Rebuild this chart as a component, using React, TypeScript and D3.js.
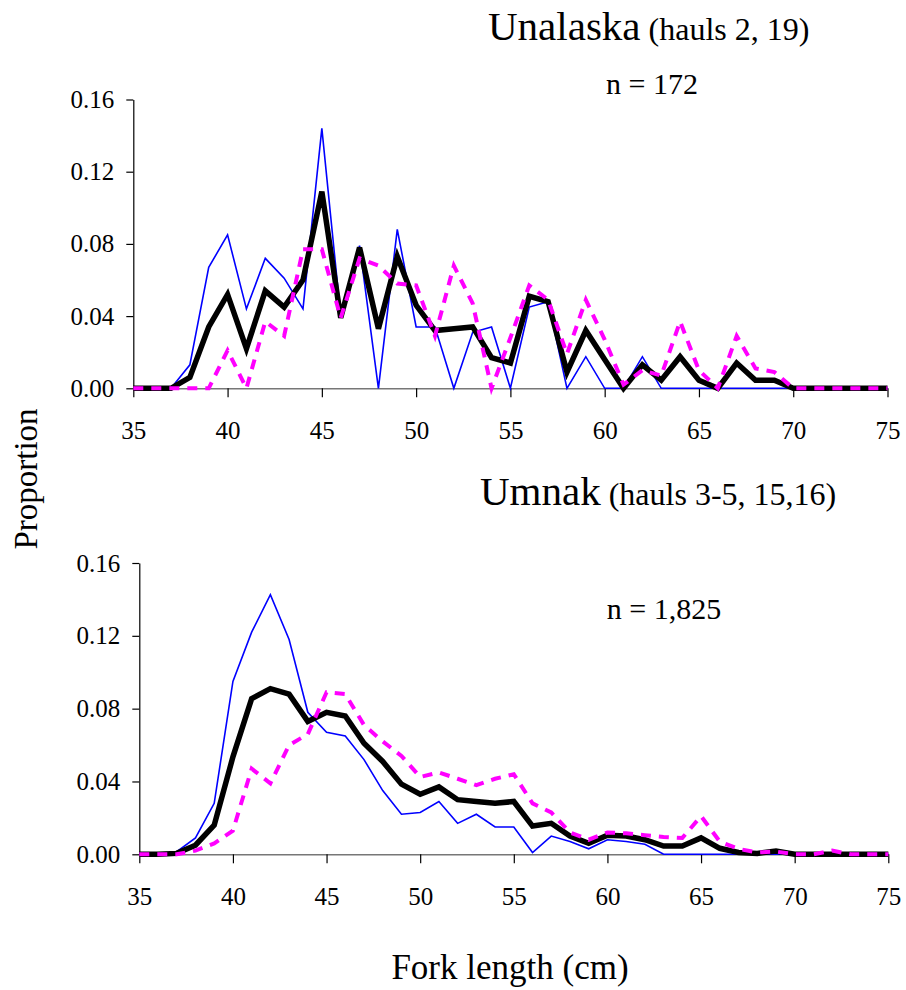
import React, { useEffect, useRef } from "react";
import * as d3 from "d3";

const forkLengths = [35, 36, 37, 38, 39, 40, 41, 42, 43, 44, 45, 46, 47, 48, 49, 50, 51, 52, 53, 54, 55, 56, 57, 58, 59, 60, 61, 62, 63, 64, 65, 66, 67, 68, 69, 70, 71, 72, 73, 74, 75];

// Unalaska (hauls 2, 19)
const unalaskaBlue = [0, 0, 0, 0.013, 0.067, 0.085, 0.044, 0.072, 0.061, 0.044, 0.144, 0.040, 0.079, 0, 0.088, 0.034, 0.034, 0, 0.031, 0.034, 0, 0.045, 0.048, 0, 0.0175, 0, 0, 0.0175, 0, 0, 0, 0, 0, 0, 0, 0, 0, 0, 0, 0, 0];
const unalaskaTotal = [0, 0, 0, 0.006, 0.034, 0.052, 0.022, 0.054, 0.045, 0.060, 0.109, 0.039, 0.078, 0.033, 0.073, 0.046, 0.032, 0.033, 0.034, 0.017, 0.014, 0.051, 0.048, 0.009, 0.032, 0.016, 0, 0.013, 0.0045, 0.0175, 0.0045, 0, 0.014, 0.0045, 0.0045, 0, 0, 0, 0, 0, 0];
const unalaskaMagenta = [0, 0, 0, 0, 0, 0.021, 0, 0.037, 0.029, 0.077, 0.077, 0.039, 0.072, 0.068, 0.058, 0.057, 0.029, 0.068, 0.047, 0, 0.028, 0.057, 0.049, 0.019, 0.049, 0.027, 0.002, 0.010, 0.007, 0.037, 0.010, 0, 0.029, 0.011, 0.009, 0, 0, 0, 0, 0, 0];

// Umnak (hauls 3-5, 15,16)
const umnakBlue = [0, 0, 0.0014, 0.009, 0.028, 0.095, 0.122, 0.1426, 0.118, 0.078, 0.067, 0.065, 0.052, 0.035, 0.022, 0.023, 0.029, 0.017, 0.022, 0.015, 0.015, 0.001, 0.010, 0.007, 0.003, 0.008, 0.007, 0.0055, 0, 0, 0, 0, 0, 0, 0, 0, 0, 0, 0, 0, 0];
const umnakTotal = [0, 0, 0.0005, 0.005, 0.016, 0.0535, 0.0855, 0.091, 0.088, 0.073, 0.078, 0.076, 0.061, 0.051, 0.0385, 0.033, 0.037, 0.030, 0.029, 0.028, 0.029, 0.0155, 0.017, 0.010, 0.006, 0.0105, 0.010, 0.008, 0.0045, 0.0045, 0.009, 0.0033, 0.001, 0.0005, 0.0018, 0, 0, 0, 0, 0, 0];
const umnakMagenta = [0, 0, 0, 0.002, 0.006, 0.013, 0.047, 0.039, 0.060, 0.066, 0.089, 0.088, 0.071, 0.062, 0.054, 0.0425, 0.045, 0.0415, 0.038, 0.0415, 0.044, 0.028, 0.023, 0.012, 0.008, 0.012, 0.0115, 0.0105, 0.0095, 0.009, 0.021, 0.007, 0.003, 0.001, 0.0015, 0, 0, 0.002, 0, 0, 0];

const xTicks = [35, 40, 45, 50, 55, 60, 65, 70, 75];
const yTicks = [0, 0.04, 0.08, 0.12, 0.16];

const FONT = "'Liberation Serif', 'Times New Roman', serif";

export default function App() {
  const ref = useRef<SVGSVGElement>(null);

  useEffect(() => {
    const svg = d3.select(ref.current);
    svg.selectAll("*").remove();
    svg.append("rect").attr("width", 906).attr("height", 990).attr("fill", "white");

    const panels = [
      {
        title: "Unalaska", sub: " (hauls 2, 19)", n: "n = 172",
        titleX: 488, titleY: 40, nX: 652, nY: 94,
        xr: [133.3, 887.5], yr: [388.3, 99.5],
        blue: unalaskaBlue, total: unalaskaTotal, magenta: unalaskaMagenta,
      },
      {
        title: "Umnak", sub: " (hauls 3-5, 15,16)", n: "n = 1,825",
        titleX: 480, titleY: 505, nX: 664, nY: 619,
        xr: [139.3, 888.3], yr: [854.3, 563],
        blue: umnakBlue, total: umnakTotal, magenta: umnakMagenta,
      },
    ];

    panels.forEach((p) => {
      const x = d3.scaleLinear().domain([35, 75]).range(p.xr);
      const y = d3.scaleLinear().domain([0, 0.16]).range(p.yr);
      const g = svg.append("g");

      // y axis
      const ya = g.append("g").attr("transform", `translate(${p.xr[0]},0)`)
        .call(d3.axisLeft(y).tickValues(yTicks).tickFormat(d3.format(".2f")).tickSize(7).tickSizeOuter(0).tickPadding(12));
      ya.select(".domain").attr("stroke", "#000").attr("stroke-width", 1.2);
      ya.selectAll(".tick line").attr("stroke", "#000").attr("stroke-width", 1.2);
      ya.selectAll(".tick text").attr("font-family", FONT).attr("font-size", 25).attr("fill", "#000");

      // x axis
      const xa = g.append("g").attr("transform", `translate(0,${p.yr[0]})`)
        .call(d3.axisBottom(x).tickValues(xTicks).tickFormat(d3.format("d")).tickSize(9).tickSizeOuter(0).tickPadding(24));
      xa.select(".domain").attr("stroke", "#777").attr("stroke-width", 1.5);
      xa.selectAll(".tick line").attr("stroke", "#000").attr("stroke-width", 1.2);
      xa.selectAll(".tick text").attr("font-family", FONT).attr("font-size", 25).attr("fill", "#000");

      const line = d3.line<number>().x((_, i) => x(forkLengths[i])).y((d) => y(d));

      g.append("path").attr("d", line(p.blue)).attr("fill", "none")
        .attr("stroke", "#0000FF").attr("stroke-width", 1.6).attr("stroke-linejoin", "miter");
      g.append("path").attr("d", line(p.total)).attr("fill", "none")
        .attr("stroke", "#000").attr("stroke-width", 5.5).attr("stroke-linejoin", "miter");
      g.append("path").attr("d", line(p.magenta)).attr("fill", "none")
        .attr("stroke", "#FF00FF").attr("stroke-width", 4).attr("stroke-dasharray", "10,8");

      const t = g.append("text").attr("x", p.titleX).attr("y", p.titleY)
        .attr("font-family", FONT).attr("fill", "#000");
      t.append("tspan").attr("font-size", 41).text(p.title);
      t.append("tspan").attr("font-size", 32).text(p.sub);

      g.append("text").attr("x", p.nX).attr("y", p.nY).attr("text-anchor", "middle")
        .attr("font-family", FONT).attr("font-size", 30).attr("fill", "#000").text(p.n);
    });

    svg.append("text").attr("transform", "translate(37,479) rotate(-90)")
      .attr("text-anchor", "middle").attr("font-family", FONT).attr("font-size", 33)
      .attr("fill", "#000").text("Proportion");

    svg.append("text").attr("x", 510).attr("y", 979)
      .attr("text-anchor", "middle").attr("font-family", FONT).attr("font-size", 35)
      .attr("fill", "#000").text("Fork length (cm)");
  }, []);

  return (
    <svg ref={ref} width={906} height={990}
      style={{ position: "absolute", left: 0, top: 0, display: "block" }} />
  );
}
